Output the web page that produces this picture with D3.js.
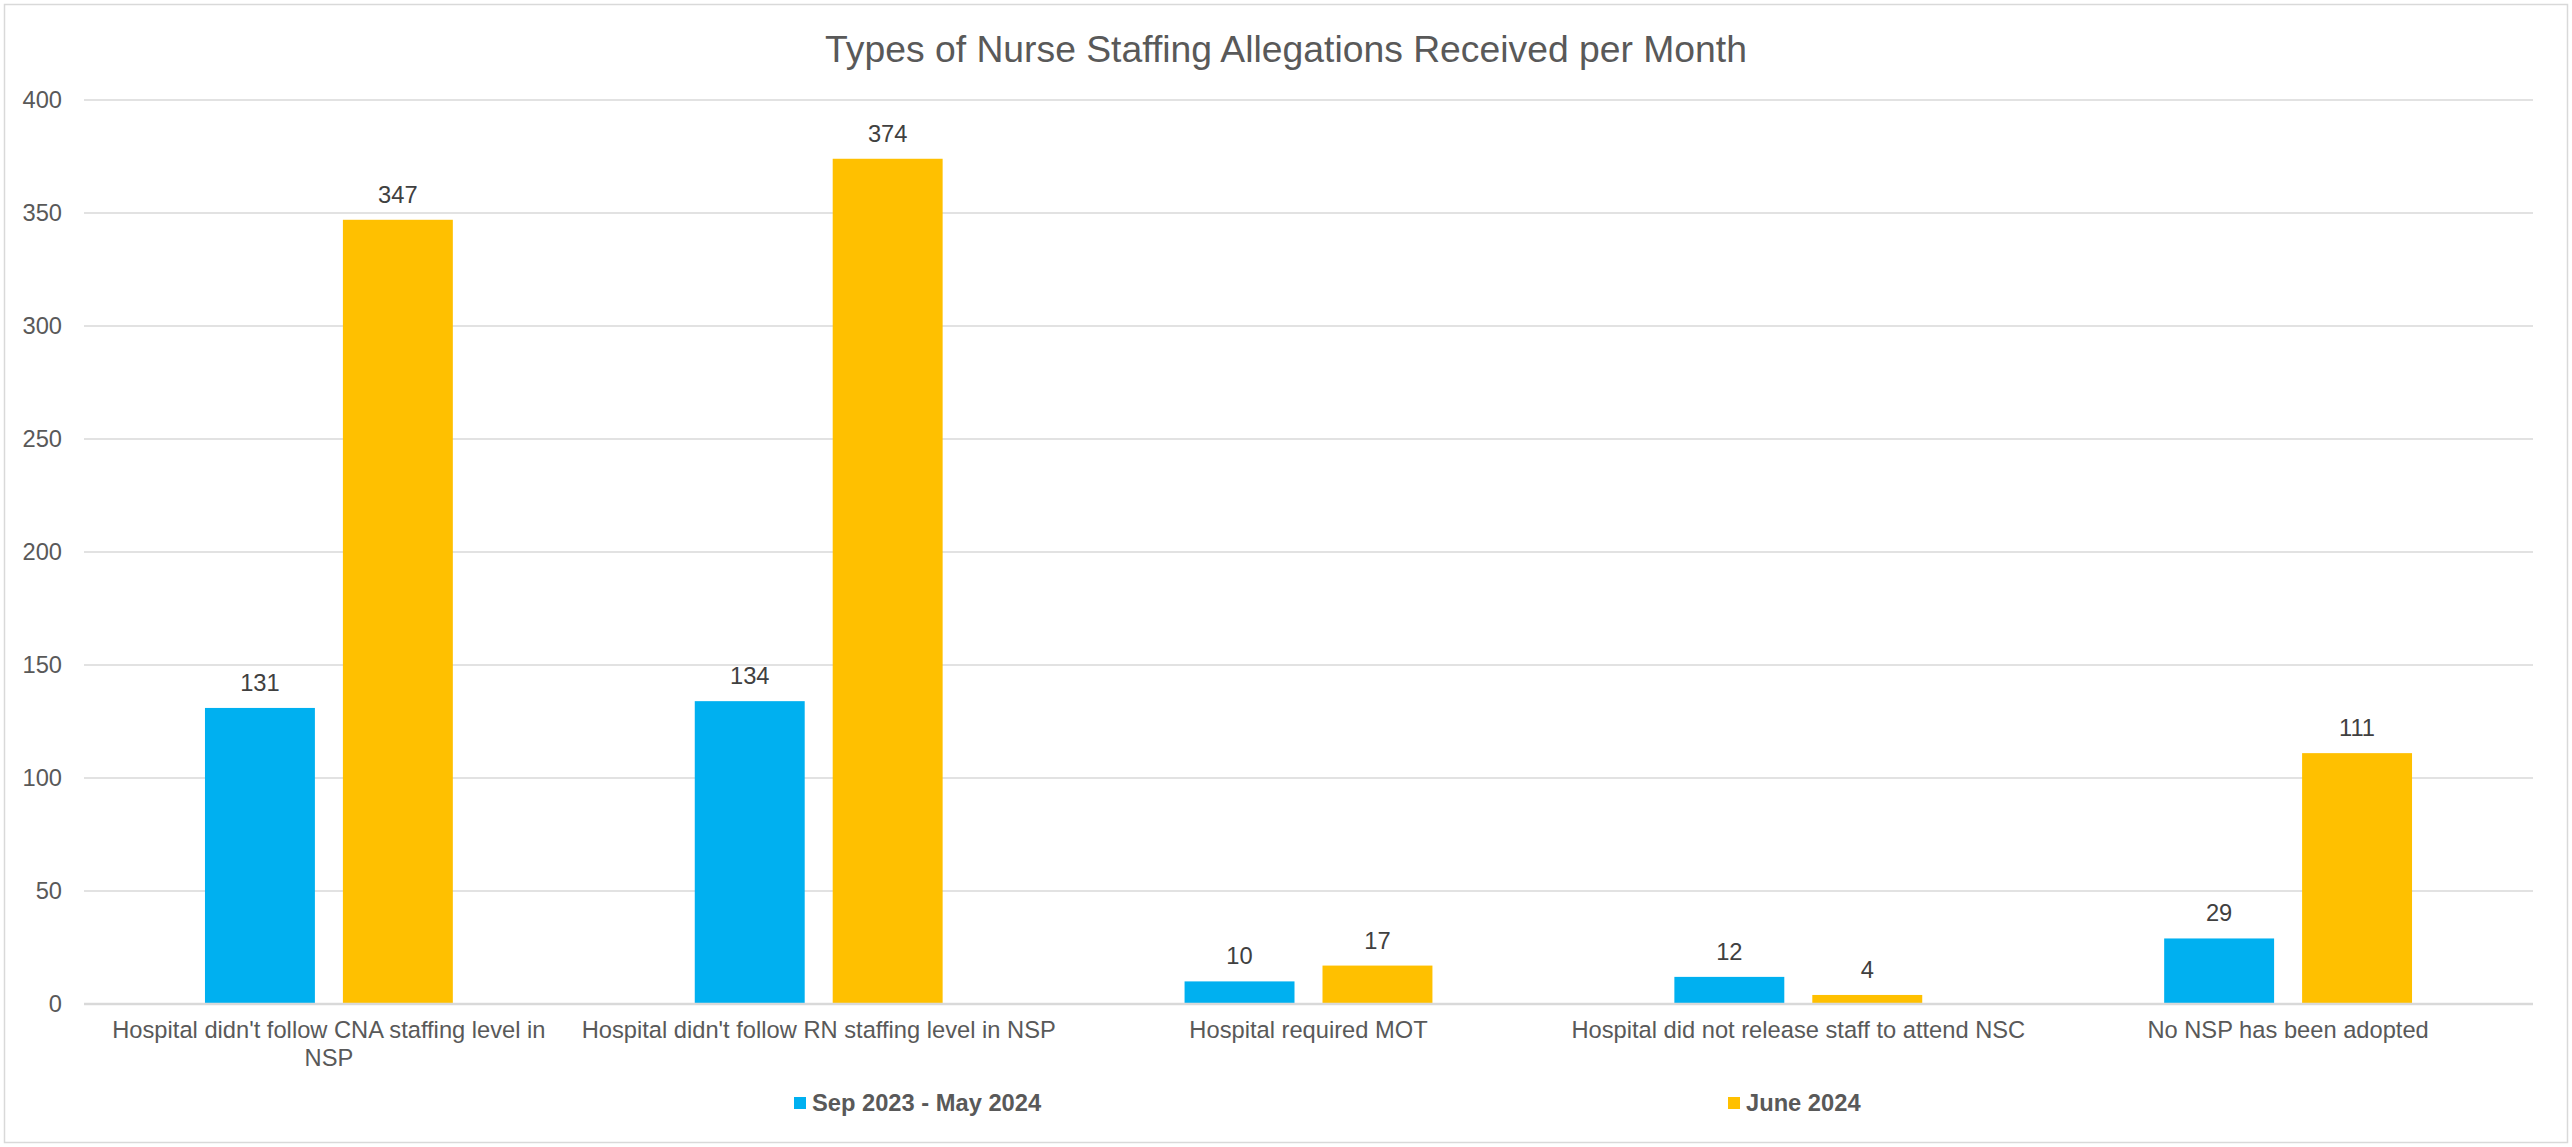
<!DOCTYPE html>
<html>
<head>
<meta charset="utf-8">
<script src="https://cdn.jsdelivr.net/npm/d3@7"></script>
<style>
  html, body { margin: 0; padding: 0; background: #fff; }
  svg { display: block; font-family: "Liberation Sans", Arial, sans-serif; }
</style>
</head>
<body>
<svg id="chart"></svg>
<script>
var categories = [
  "Hospital didn't follow CNA staffing level in NSP",
  "Hospital didn't follow RN staffing level in NSP",
  "Hospital required MOT",
  "Hospital did not release staff to attend NSC",
  "No NSP has been adopted"
];
var seriesNames = ["Sep 2023 - May 2024", "June 2024"];
var sepMay = [131, 134, 10, 12, 29];
var june = [347, 374, 17, 4, 111];
var yTicks = [0, 50, 100, 150, 200, 250, 300, 350, 400];

var width = 2572, height = 1147;
var margin = { top: 100, right: 39, bottom: 143, left: 84 };
var colors = ["#00B0F0", "#FFC000"];

var svg = d3.select("#chart").attr("width", width).attr("height", height);

// chart border
svg.append("rect")
  .attr("x", 4.5).attr("y", 4.5)
  .attr("width", width - 9).attr("height", height - 9)
  .attr("fill", "#fff").attr("stroke", "#D9D9D9").attr("stroke-width", 1.5);

// title
svg.append("text")
  .attr("x", width / 2).attr("y", 62)
  .attr("text-anchor", "middle")
  .attr("fill", "#595959")
  .style("font-size", "37.3px")
  .text("Types of Nurse Staffing Allegations Received per Month");

var plotW = width - margin.left - margin.right;
var plotBottom = height - margin.bottom;

var x0 = d3.scaleBand()
  .domain(categories)
  .range([margin.left, margin.left + plotW])
  .padding(0);

var x1 = d3.scaleBand()
  .domain(seriesNames)
  .range([0, x0.bandwidth()])
  .paddingInner(0.203)
  .paddingOuter(0.877);

var y = d3.scaleLinear()
  .domain([0, 400])
  .range([plotBottom, margin.top]);

// gridlines
svg.append("g")
  .selectAll("line")
  .data(yTicks.filter(function(d) { return d > 0; }))
  .enter().append("line")
  .attr("x1", margin.left).attr("x2", margin.left + plotW)
  .attr("y1", function(d) { return y(d); })
  .attr("y2", function(d) { return y(d); })
  .attr("stroke", "#D9D9D9").attr("stroke-width", 1.5);

// y axis
var yAxis = svg.append("g")
  .attr("transform", "translate(" + margin.left + ",0)")
  .call(d3.axisLeft(y).tickValues(yTicks).tickSize(0).tickPadding(22));
yAxis.select(".domain").remove();
yAxis.selectAll("text")
  .attr("fill", "#595959")
  .style("font-size", "23.7px")
  .style("font-family", "'Liberation Sans', Arial, sans-serif");

// bars
var data = categories.map(function(c, i) {
  return { cat: c, values: [sepMay[i], june[i]] };
});

var groups = svg.append("g")
  .selectAll("g")
  .data(data)
  .enter().append("g")
  .attr("transform", function(d) { return "translate(" + x0(d.cat) + ",0)"; });

groups.selectAll("rect")
  .data(function(d) { return d.values.map(function(v, j) { return { s: seriesNames[j], v: v, j: j }; }); })
  .enter().append("rect")
  .attr("x", function(d) { return x1(d.s); })
  .attr("width", x1.bandwidth())
  .attr("y", function(d) { return y(d.v); })
  .attr("height", function(d) { return y(0) - y(d.v); })
  .attr("fill", function(d) { return colors[d.j]; });

groups.selectAll("text.lbl")
  .data(function(d) { return d.values.map(function(v, j) { return { s: seriesNames[j], v: v }; }); })
  .enter().append("text")
  .attr("class", "lbl")
  .attr("x", function(d) { return x1(d.s) + x1.bandwidth() / 2; })
  .attr("y", function(d) { return y(d.v) - 17; })
  .attr("text-anchor", "middle")
  .attr("fill", "#404040")
  .style("font-size", "23.7px")
  .text(function(d) { return d.v; });

// x axis line
svg.append("line")
  .attr("x1", margin.left).attr("x2", margin.left + plotW)
  .attr("y1", y(0)).attr("y2", y(0))
  .attr("stroke", "#D9D9D9").attr("stroke-width", 2.5);

// category labels, wrapped a bit inside the band like Excel does
var catLabels = svg.append("g")
  .selectAll("text")
  .data(categories)
  .enter().append("text")
  .attr("x", function(d) { return x0(d) + x0.bandwidth() / 2; })
  .attr("y", plotBottom + 34)
  .attr("text-anchor", "middle")
  .attr("fill", "#595959")
  .style("font-size", "23.7px");

catLabels.each(function(d) {
  var el = d3.select(this);
  var words = d.split(" ");
  var maxW = x0.bandwidth() - 10;
  var line = [];
  var tspan = el.append("tspan").attr("x", el.attr("x")).attr("dy", 0);
  words.forEach(function(w) {
    line.push(w);
    tspan.text(line.join(" "));
    if (tspan.node().getComputedTextLength() > maxW && line.length > 1) {
      line.pop();
      tspan.text(line.join(" "));
      line = [w];
      tspan = el.append("tspan").attr("x", el.attr("x")).attr("dy", "28px").text(w);
    }
  });
});

// legend
var legendX = [794, 1728];
var legend = svg.append("g")
  .selectAll("g")
  .data(seriesNames)
  .enter().append("g")
  .attr("transform", function(d, i) { return "translate(" + legendX[i] + "," + 1103 + ")"; });

legend.append("rect")
  .attr("x", 0).attr("y", -6)
  .attr("width", 12).attr("height", 12)
  .attr("fill", function(d, i) { return colors[i]; });

legend.append("text")
  .attr("x", 18).attr("y", 8)
  .attr("fill", "#595959")
  .style("font-size", "23.7px")
  .style("font-weight", "bold")
  .text(function(d) { return d; });
</script>
</body>
</html>
